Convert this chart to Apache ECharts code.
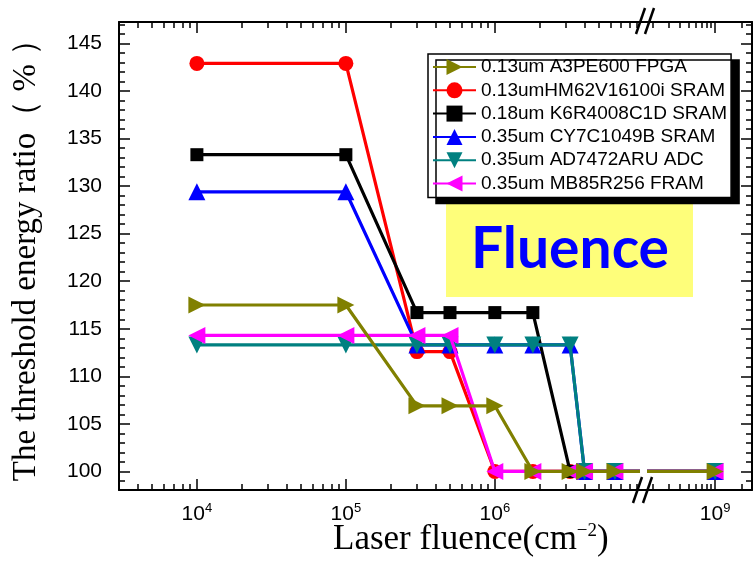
<!DOCTYPE html>
<html>
<head>
<meta charset="utf-8">
<script src="https://cdn.jsdelivr.net/npm/echarts@6/dist/echarts.min.js"></script>
<style>
  html, body { margin: 0; padding: 0; background: #fff; }
  #chart { width: 756px; height: 565px; }
</style>
</head>
<body>
<div id="chart"></div>
<script>
// Laser fluence values (cm^-2) at which each device was measured
const fluence = [1e4, 1e5, 3e5, 5e5, 1e6, 1.8e6, 3.2e6, 4e6, 6.4e6, 1e9];

// Threshold energy ratio (%) per device
const a3pe600Fpga   = [117.5, 117.5, 106.9, 106.9, 106.9, 100, 100, 100, 100, 100];
const hm62v16100i   = [142.9, 142.9, 112.6, 112.6, 100, 100, 100, 100, 100, 100];
const k6r4008c1d    = [133.3, 133.3, 116.7, 116.7, 116.7, 116.7, 100, 100, 100, 100];
const cy7c1049b     = [129.4, 129.4, 113.3, 113.3, 113.3, 113.3, 113.3, 100, 100, 100];
const ad7472aru     = [113.3, 113.3, 113.3, 113.3, 113.3, 113.3, 113.3, 100, 100, 100];
const mb85r256      = [114.3, 114.3, 114.3, 114.3, 100, 100, 100, 100, 100, 100];

const seriesNames = [
  '0.13um A3PE600 FPGA',
  '0.13umHM62V16100i SRAM',
  '0.18um K6R4008C1D SRAM',
  '0.35um CY7C1049B SRAM',
  '0.35um AD7472ARU ADC',
  '0.35um MB85R256 FRAM'
];

// Tick labels
const yTickValues = [100, 105, 110, 115, 120, 125, 130, 135, 140, 145];
const xTicksLow  = [1e4, 1e5, 1e6];   // left part of the broken axis
const xTicksHigh = [1e9];             // right part of the broken axis

// Axis ranges on both sides of the break
const xRangeLow  = [3e3, 9e6];
const xRangeHigh = [1.8e8, 2.6e9];
const yRange     = [98.05, 147.25];

// Minor tick positions: 2..9 within each decade, and every unit on y
function decadeMinors(lo, hi) {
  const out = [];
  for (let e = Math.floor(Math.log10(lo)); e <= Math.ceil(Math.log10(hi)); e++) {
    for (let m = 2; m <= 9; m++) {
      const v = m * Math.pow(10, e);
      if (v >= lo && v <= hi) out.push(v);
    }
  }
  return out;
}
const yMinorValues = [];
for (let v = 99; v <= 147; v++) yMinorValues.push(v);

const styles = [
  { color: '#808000', symbol: 'triangle', rotate: -90, size: 17 },
  { color: '#ff0000', symbol: 'circle',   rotate: 0,   size: 15 },
  { color: '#000000', symbol: 'rect',     rotate: 0,   size: 13 },
  { color: '#0000ff', symbol: 'triangle', rotate: 0,   size: 17 },
  { color: '#008080', symbol: 'triangle', rotate: 180, size: 17 },
  { color: '#ff00ff', symbol: 'triangle', rotate: 90,  size: 17 }
];
const values = [a3pe600Fpga, hm62v16100i, k6r4008c1d, cy7c1049b, ad7472aru, mb85r256];

const LABEL_FONT = 'Liberation Sans, Arial, sans-serif';
const TITLE_FONT = 'Liberation Serif, "Times New Roman", serif';

function xAxisSet(gridIndex, range, majors, position, withLabels, withLine) {
  const major = {
    type: 'log', gridIndex, position, min: range[0], max: range[1],
    axisLine: { show: withLine, onZero: false, lineStyle: { color: '#000', width: 2 } },
    axisTick: { show: true, inside: true, length: 11, customValues: majors,
      lineStyle: { color: '#000', width: 1.5 } },
    axisLabel: {
      show: withLabels, customValues: majors, margin: 12,
      formatter: v => '10{sup|' + Math.round(Math.log10(v)) + '}',
      color: '#000', fontFamily: LABEL_FONT, fontSize: 21, lineHeight: 24,
      rich: { sup: { fontSize: 13, fontFamily: LABEL_FONT, color: '#000', verticalAlign: 'top', lineHeight: 12 } }
    },
    splitLine: { show: false }, minorTick: { show: false }
  };
  const minor = {
    type: 'log', gridIndex, position, min: range[0], max: range[1],
    axisLine: { show: false },
    axisTick: { show: true, inside: true, length: 6, customValues: decadeMinors(range[0], range[1]),
      lineStyle: { color: '#000', width: 1.5 } },
    axisLabel: { show: false },
    splitLine: { show: false }
  };
  return [major, minor];
}

function yAxisSet(gridIndex, position, withLabels) {
  const major = {
    type: 'value', gridIndex, position, min: yRange[0], max: yRange[1],
    axisLine: { show: true, onZero: false, lineStyle: { color: '#000', width: 2 } },
    axisTick: { show: true, inside: true, length: 11, customValues: yTickValues,
      lineStyle: { color: '#000', width: 1.5 } },
    axisLabel: { show: withLabels, customValues: yTickValues, margin: 17,
      color: '#000', fontFamily: LABEL_FONT, fontSize: 21 },
    splitLine: { show: false }
  };
  if (withLabels) {
    Object.assign(major, {
      name: 'The threshold energy ratio（ % ）',
      nameLocation: 'middle', nameRotate: 90, nameGap: 76,
      nameTextStyle: { fontFamily: TITLE_FONT, fontSize: 33, color: '#000', padding: [0, 0, 0, 8] }
    });
  }
  const minor = {
    type: 'value', gridIndex, position, min: yRange[0], max: yRange[1],
    axisLine: { show: false },
    axisTick: { show: true, inside: true, length: 6, customValues: yMinorValues,
      lineStyle: { color: '#000', width: 1.5 } },
    axisLabel: { show: false },
    splitLine: { show: false }
  };
  return [major, minor];
}

const xAxes = [
  ...xAxisSet(0, xRangeLow, xTicksLow, 'bottom', true, true),   // 0,1
  ...xAxisSet(0, xRangeLow, xTicksLow, 'top', false, true),     // 2,3
  ...xAxisSet(1, xRangeHigh, xTicksHigh, 'bottom', true, true), // 4,5
  ...xAxisSet(1, xRangeHigh, xTicksHigh, 'top', false, true)    // 6,7
];
const yAxes = [
  ...yAxisSet(0, 'left', true),    // 0,1
  ...yAxisSet(1, 'right', false)   // 2,3
];

// Each device is drawn once per axis segment; the segment clips what lies beyond it
const series = [];
[[0, 0], [4, 2]].forEach(([xi, yi]) => {
  values.forEach((vals, i) => {
    const s = styles[i];
    series.push({
      type: 'line', name: seriesNames[i], xAxisIndex: xi, yAxisIndex: yi,
      data: fluence.map((f, k) => [f, vals[k]]),
      symbol: s.symbol, symbolSize: s.size, symbolRotate: s.rotate, showAllSymbol: true,
      clip: true, animation: false,
      lineStyle: { color: s.color, width: 3.2 },
      itemStyle: { color: s.color },
      z: i === 0 ? 4 : 2 + i * 0.1
    });
  });
});

const chart = echarts.init(document.getElementById('chart'), null, { renderer: 'canvas' });
chart.setOption({
  animation: false,
  backgroundColor: '#fff',
  grid: [
    { left: 119, right: 119, top: 22, bottom: 75, containLabel: false, outerBoundsMode: 'none' },
    { left: 649, right: 4, top: 22, bottom: 75, containLabel: false, outerBoundsMode: 'none' }
  ],
  xAxis: xAxes,
  yAxis: yAxes,
  legend: {
    data: seriesNames,
    orient: 'vertical', left: 428, top: 54,
    padding: [3, 4, 4, 4],
    itemWidth: 43, itemHeight: 20, itemGap: 3.3,
    textStyle: { fontFamily: LABEL_FONT, fontSize: 19, lineHeight: 20, color: '#000' },
    backgroundColor: '#fff', borderColor: '#000', borderWidth: 1.5, borderRadius: 0,
    shadowColor: '#000', shadowBlur: 0, shadowOffsetX: 8, shadowOffsetY: 6
  },
  graphic: [
    // bridge of the axis lines across the break, plus the break marks
    { type: 'line', shape: { x1: 636, y1: 490, x2: 650, y2: 490 }, style: { stroke: '#000', lineWidth: 2 } },
    { type: 'line', shape: { x1: 636, y1: 22, x2: 650, y2: 22 }, style: { stroke: '#000', lineWidth: 2 } },
    { type: 'line', shape: { x1: 633, y1: 503, x2: 642, y2: 477 }, style: { stroke: '#000', lineWidth: 2.5 } },
    { type: 'line', shape: { x1: 643, y1: 503, x2: 652, y2: 477 }, style: { stroke: '#000', lineWidth: 2.5 } },
    { type: 'line', shape: { x1: 636, y1: 34, x2: 645, y2: 8 }, style: { stroke: '#000', lineWidth: 2.5 } },
    { type: 'line', shape: { x1: 645, y1: 34, x2: 654, y2: 8 }, style: { stroke: '#000', lineWidth: 2.5 } },
    // x axis title
    {
      type: 'text', left: 333, top: 522,
      style: {
        text: 'Laser fluence(cm{sup|−2})',
        font: '35px ' + TITLE_FONT, fill: '#000',
        rich: { sup: { fontSize: 19, fontFamily: TITLE_FONT, verticalAlign: 'top', lineHeight: 18, fill: '#000' } }
      }
    },
    // annotation box
    {
      type: 'group', left: 446, top: 202,
      children: [
        { type: 'rect', shape: { x: 0, y: 0, width: 247, height: 95 }, style: { fill: '#fefe7a' } },
        { type: 'text', x: 124, y: 48,
          style: { text: 'Fluence', font: 'bold 57px Lato, "Open Sans", sans-serif', fill: '#0000ff',
            align: 'center', verticalAlign: 'middle' } }
      ]
    }
  ],
  series
});
</script>
</body>
</html>
